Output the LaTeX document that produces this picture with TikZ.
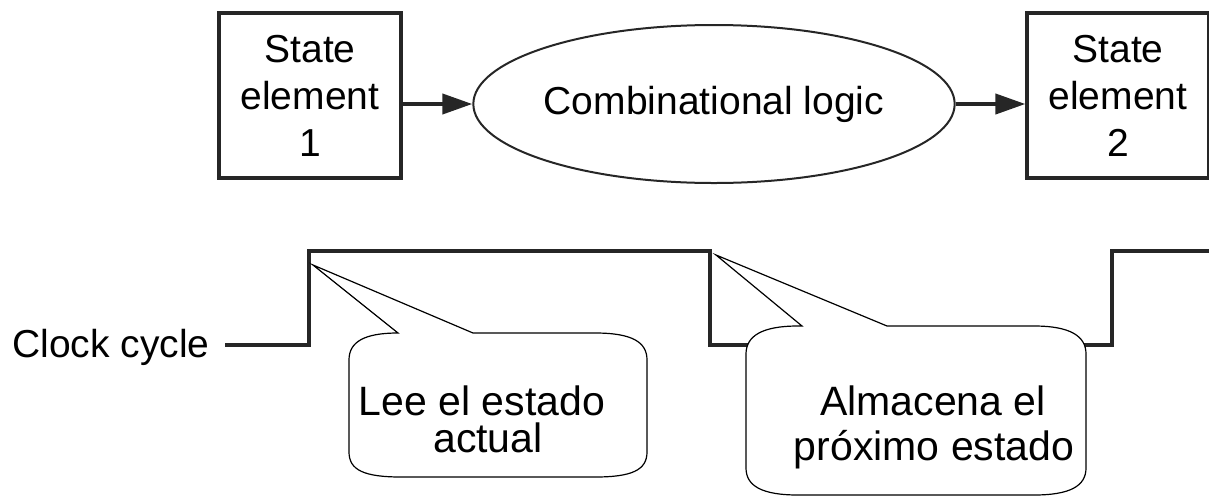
\documentclass[tikz,border=0pt]{standalone}
\usepackage{fontspec}
\setmainfont{Liberation Sans}
\usetikzlibrary{shapes.geometric,arrows.meta}
\tikzset{
  statebox/.style={draw=black!85, line width=3.2pt, minimum width=182pt, minimum height=165pt, inner sep=0pt, align=center, font=\fontsize{39}{47}\selectfont},
  logic/.style={draw=black!85, ellipse, line width=2pt, minimum width=426pt, minimum height=158pt, inner sep=0pt, font=\fontsize{39}{47}\selectfont},
  flow/.style={draw=black!85, line width=4pt, -{Triangle[length=30pt,width=20pt]}},
  clock/.style={draw=black!85, line width=4.5pt, line join=miter},
  callout/.style={draw=black, fill=white, line width=1.2pt, line join=miter},
  bigtext/.style={font=\fontsize{39}{47}\selectfont, inner sep=0pt},
  calltext/.style={font=\fontsize{41}{45}\selectfont, inner sep=0pt}
}
\begin{document}
\begin{tikzpicture}[x=1pt,y=-1pt]
\useasboundingbox (0,0) rectangle (1209,496);
% top row
\node[statebox] (s1) at (310,95.5) {State\\element\\1};
\node[logic] (cl) at (714,104) {Combinational logic};
\node[statebox] (s2) at (1118,95.5) {State\\element\\2};
\draw[flow] (s1.east |- cl.west) -- (cl.west);
\draw[flow] (cl.east) -- (s2.west |- cl.east);
% clock
\node[bigtext, anchor=base west] (ck) at (12,357) {Clock cycle};
\coordinate (c0) at (225,345);
\coordinate (c1) at (309,345);
\coordinate (c2) at (309,251);
\coordinate (c3) at (710,251);
\coordinate (c4) at (710,345);
\coordinate (c5) at (1112,345);
\coordinate (c6) at (1112,251);
\coordinate (c7) at (1212,251);
\draw[clock] (c0) -- (c1) -- (c2) -- (c3) -- (c4) -- (c5) -- (c6) -- (c7);
% callout 1
\coordinate (t1) at (313,265);
\draw[callout] (398,333) -- (t1) -- (473,333) -- (595,333)
  .. controls (632,333) and (647,342) .. (647,360) -- (647,452)
  .. controls (647,470) and (632,477) .. (595,477) -- (401,477)
  .. controls (364,477) and (349,470) .. (349,452) -- (349,360)
  .. controls (349,342) and (364,333) .. (398,333) -- cycle;
\node[calltext, anchor=base] (l1a) at (482,415) {Lee el estado};
\node[calltext, anchor=base] (l1b) at (488,452) {actual};
% callout 2
\coordinate (t2) at (716,255);
\draw[callout] (802,326) -- (t2) -- (887,326) -- (1034,326)
  .. controls (1070,326) and (1086,336) .. (1086,354) -- (1086,468)
  .. controls (1086,486) and (1070,495) .. (1034,495) -- (798,495)
  .. controls (762,495) and (746,486) .. (746,468) -- (746,354)
  .. controls (746,336) and (762,326) .. (798,326) -- cycle;
\node[calltext, anchor=base] (l2a) at (933,415) {Almacena el};
\node[calltext, anchor=base] (l2b) at (934,460) {próximo estado};
\end{tikzpicture}
\end{document}
